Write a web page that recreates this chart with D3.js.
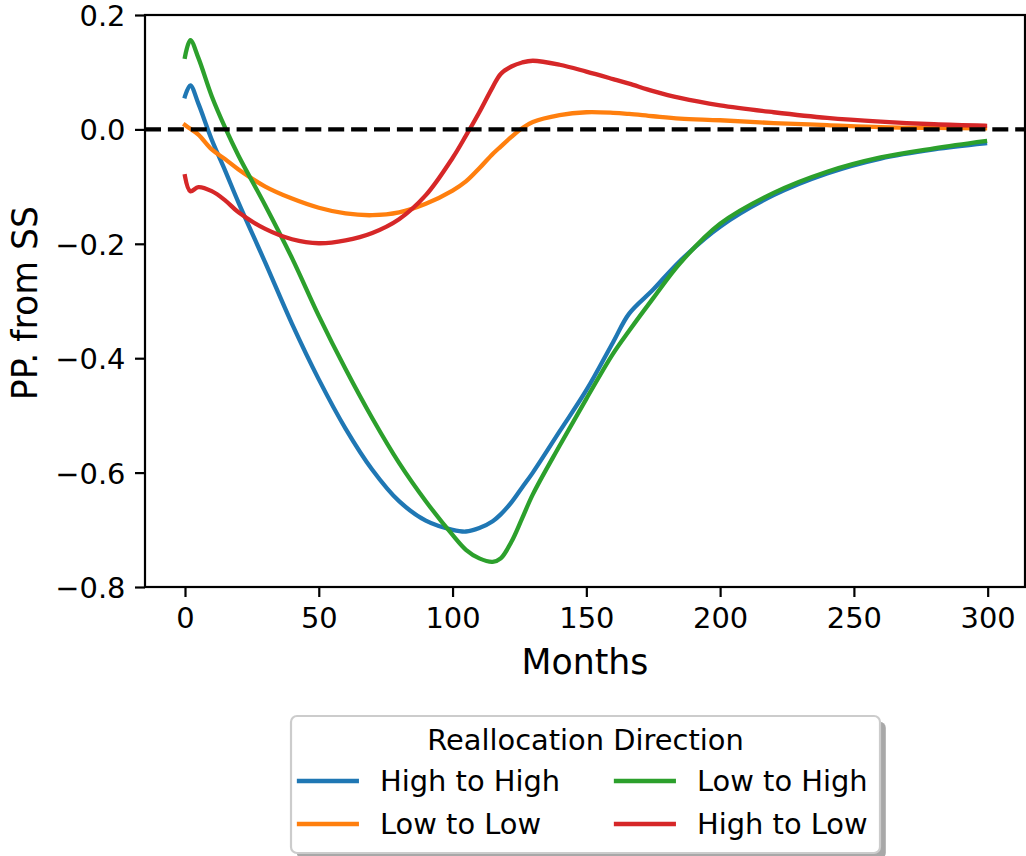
<!DOCTYPE html>
<html>
<head>
<meta charset="utf-8">
<script src="https://cdn.jsdelivr.net/npm/d3@7"></script>
<style>
  html, body { margin: 0; padding: 0; background: #fff; }
  svg { display: block; font-family: "DejaVu Sans", sans-serif; }
</style>
</head>
<body>
<svg id="chart" width="1026" height="856"></svg>
<script>
// Months since the shock at which each response is recorded
const months = [0, 2, 5, 10, 15, 20, 30, 40, 50, 60, 70, 80, 90, 100, 105, 110, 115, 118, 122, 126, 130,
                140, 150, 160, 166, 175, 185, 200, 220, 240, 260, 280, 299];

// Percentage-point deviation from steady state, by reallocation direction
const highToHigh = [0.058, 0.077, 0.045, -0.018, -0.072, -0.128, -0.233, -0.340, -0.437, -0.523, -0.595,
                    -0.650, -0.684, -0.700, -0.703, -0.697, -0.685, -0.673, -0.652, -0.626, -0.600,
                    -0.528, -0.456, -0.372, -0.322, -0.280, -0.230, -0.170, -0.115, -0.077, -0.051, -0.035, -0.0245];
const lowToLow   = [0.0076, 0.001, -0.009, -0.035, -0.052, -0.070, -0.100, -0.121, -0.137, -0.147, -0.150,
                    -0.145, -0.130, -0.107, -0.091, -0.068, -0.043, -0.030, -0.013, 0.002, 0.013,
                    0.025, 0.030, 0.029, 0.027, 0.023, 0.019, 0.016, 0.011, 0.0075, 0.004, 0.0025, 0.0018];
const lowToHigh  = [0.127, 0.156, 0.125, 0.058, 0.003, -0.046, -0.133, -0.225, -0.326, -0.419, -0.505,
                    -0.583, -0.650, -0.709, -0.735, -0.750, -0.756, -0.750, -0.721, -0.680, -0.638,
                    -0.553, -0.471, -0.392, -0.352, -0.295, -0.234, -0.165, -0.111, -0.074, -0.049, -0.033, -0.0204];
const highToLow  = [-0.082, -0.108, -0.101, -0.108, -0.124, -0.145, -0.174, -0.192, -0.199, -0.194, -0.181,
                    -0.157, -0.115, -0.050, -0.011, 0.030, 0.074, 0.097, 0.110, 0.117, 0.120,
                    0.113, 0.101, 0.088, 0.080, 0.067, 0.055, 0.042, 0.030, 0.020, 0.0135, 0.009, 0.0064];

const xTicks = [0, 50, 100, 150, 200, 250, 300];
const yTicks = [0.2, 0.0, -0.2, -0.4, -0.6, -0.8];

const seriesNames = ["High to High", "Low to Low", "Low to High", "High to Low"];
const seriesValues = [highToHigh, lowToLow, lowToHigh, highToLow];
const seriesColors = ["#1f77b4", "#ff7f0e", "#2ca02c", "#d62728"];

const svg = d3.select("#chart");
const plot = { left: 145, right: 1025, top: 15, bottom: 587 };

const x = d3.scaleLinear().domain([-14.95, 313.95]).range([plot.left, plot.right]);
const y = d3.scaleLinear().domain([-0.8, 0.2]).range([plot.bottom, plot.top]);

const tickFont = 28.9;
const labelFont = 34.7;

// Response lines
const line = d3.line()
  .x(d => x(d[0]))
  .y(d => y(d[1]))
  .curve(d3.curveCatmullRom.alpha(0.5));

const linesG = svg.append("g");
seriesValues.forEach((vals, i) => {
  linesG.append("path")
    .datum(months.map((m, j) => [m, vals[j]]))
    .attr("d", line)
    .attr("fill", "none")
    .attr("stroke", seriesColors[i])
    .attr("stroke-width", 4.3)
    .attr("stroke-linejoin", "round")
    .attr("stroke-linecap", "square");
});

// Steady-state reference line
svg.append("line")
  .attr("x1", plot.left).attr("x2", plot.right)
  .attr("y1", y(0)).attr("y2", y(0))
  .attr("stroke", "#000")
  .attr("stroke-width", 4.3)
  .attr("stroke-dasharray", "16 6.9");

// Axes
const xAxis = d3.axisBottom(x).tickValues(xTicks).tickSize(10).tickPadding(9.5).tickFormat(d3.format("d"));
const yAxis = d3.axisLeft(y).tickValues(yTicks).tickSize(10).tickPadding(9.5).tickFormat(d3.format(".1f"));

const gx = svg.append("g").attr("transform", `translate(0,${plot.bottom})`).call(xAxis);
const gy = svg.append("g").attr("transform", `translate(${plot.left},0)`).call(yAxis);
[gx, gy].forEach(g => {
  g.select(".domain").remove();
  g.selectAll(".tick line").attr("stroke", "#000").attr("stroke-width", 2.2);
  g.selectAll(".tick text")
    .attr("fill", "#000")
    .style("font-size", tickFont + "px")
    .style("font-family", "DejaVu Sans");
});
gx.selectAll(".tick text").attr("dy", "0.76em");
gy.selectAll(".tick text").attr("dy", "0.36em");

// Frame
svg.append("rect")
  .attr("x", plot.left).attr("y", plot.top)
  .attr("width", plot.right - plot.left).attr("height", plot.bottom - plot.top)
  .attr("fill", "none").attr("stroke", "#000").attr("stroke-width", 2.2);

// Axis titles
svg.append("text")
  .attr("x", (plot.left + plot.right) / 2).attr("y", 674)
  .attr("text-anchor", "middle")
  .style("font-size", labelFont + "px")
  .text("Months");

svg.append("text")
  .attr("transform", `translate(37,${(plot.top + plot.bottom) / 2 + 2}) rotate(-90)`)
  .attr("text-anchor", "middle")
  .style("font-size", labelFont + "px")
  .text("PP. from SS");

// Legend
const leg = { x: 291, y: 716, w: 589, h: 137 };
const legendG = svg.append("g");
legendG.append("rect")
  .attr("x", leg.x + 5.8).attr("y", leg.y + 5.8)
  .attr("width", leg.w).attr("height", leg.h)
  .attr("rx", 6).attr("fill", "#a8a8a8");
legendG.append("rect")
  .attr("x", leg.x).attr("y", leg.y)
  .attr("width", leg.w).attr("height", leg.h)
  .attr("rx", 6).attr("fill", "#fff")
  .attr("stroke", "#cccccc").attr("stroke-width", 2.2);

legendG.append("text")
  .attr("x", leg.x + leg.w / 2).attr("y", 740)
  .attr("dy", "0.36em")
  .attr("text-anchor", "middle")
  .style("font-size", tickFont + "px")
  .text("Reallocation Direction");

const colX = [299, 616];
const rowY = [781, 824];
seriesNames.forEach((name, i) => {
  const cx = colX[Math.floor(i / 2)];
  const cy = rowY[i % 2];
  legendG.append("line")
    .attr("x1", cx).attr("x2", cx + 57.8)
    .attr("y1", cy).attr("y2", cy)
    .attr("stroke", seriesColors[i]).attr("stroke-width", 4.3)
    .attr("stroke-linecap", "square");
  legendG.append("text")
    .attr("x", cx + 81).attr("y", cy)
    .attr("dy", "0.36em")
    .style("font-size", tickFont + "px")
    .text(name);
});
</script>
</body>
</html>
